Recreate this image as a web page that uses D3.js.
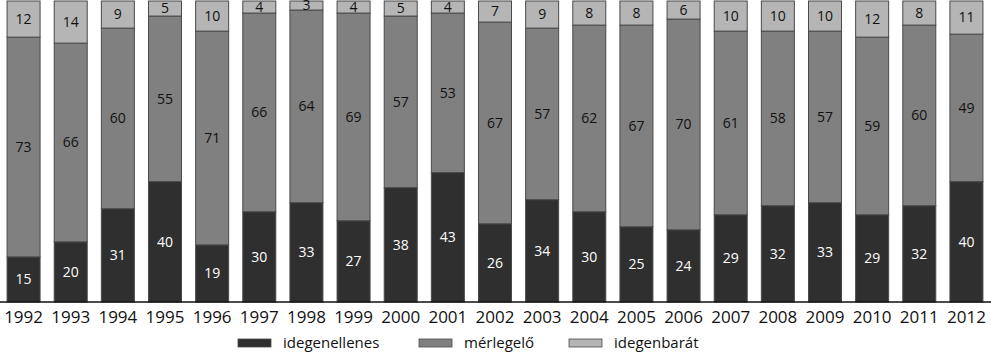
<!DOCTYPE html>
<html>
<head>
<meta charset="utf-8">
<script src="https://cdn.jsdelivr.net/npm/d3@7"></script>
<style>
  body { margin: 0; background: #fff; }
  svg { display: block; font-family: "Open Sans", "Noto Sans", sans-serif; }
</style>
</head>
<body>
<div id="chart"></div>
<script>
// Data
const years = ["1992","1993","1994","1995","1996","1997","1998","1999","2000","2001","2002",
  "2003","2004","2005","2006","2007","2008","2009","2010","2011","2012"];
const idegenellenes = [15,20,31,40,19,30,33,27,38,43,26,34,30,25,24,29,32,33,29,32,40];
const merlegelo = [73,66,60,55,71,66,64,69,57,53,67,57,62,67,70,61,58,57,59,60,49];
const idegenbarat = [12,14,9,5,10,4,3,4,5,4,7,9,8,8,6,10,10,10,12,8,11];
const seriesNames = ["idegenellenes", "mérlegelő", "idegenbarát"];

const width = 991, height = 352;
const colors = ["#2f2f2f", "#808080", "#b5b5b5"];
const textColors = ["#fff", "#111", "#111"];

const table = years.map((y, i) => ({
  year: y,
  "idegenellenes": idegenellenes[i],
  "mérlegelő": merlegelo[i],
  "idegenbarát": idegenbarat[i]
}));

const svg = d3.select("#chart")
  .append("svg")
  .attr("width", width)
  .attr("height", height);

// Scales
const x = d3.scaleBand()
  .domain(years)
  .range([0, 990])
  .paddingInner(0.3)
  .paddingOuter(0.15);

const y = d3.scaleLinear()
  .domain([0, 100])
  .range([302, 1]);

const stack = d3.stack().keys(seriesNames);
const layers = stack(table);

// Bars
const layer = svg.selectAll("g.layer")
  .data(layers)
  .join("g")
  .attr("class", "layer")
  .attr("fill", (d, i) => colors[i]);

layer.selectAll("rect")
  .data(d => d)
  .join("rect")
  .attr("x", d => x(d.data.year))
  .attr("y", d => y(d[1]))
  .attr("width", x.bandwidth())
  .attr("height", d => y(d[0]) - y(d[1]))
  .attr("stroke", "#4a4a4a")
  .attr("stroke-width", 1);

// Value labels
layers.forEach((l, li) => {
  svg.append("g")
    .selectAll("text")
    .data(l)
    .join("text")
    .attr("x", d => x(d.data.year) + x.bandwidth() / 2)
    .attr("y", d => (y(d[0]) + y(d[1])) / 2)
    .attr("dy", "0.35em")
    .attr("text-anchor", "middle")
    .attr("font-size", "14px")
    .attr("fill", textColors[li])
    .text(d => d.data[l.key]);
});

// X axis
const xAxis = svg.append("g")
  .attr("transform", `translate(0,${y(0)})`)
  .call(d3.axisBottom(x).tickSize(0).tickPadding(9));
xAxis.select(".domain")
  .attr("d", `M0,0H${width}`)
  .attr("stroke", "#111")
  .attr("stroke-width", 1.5);
xAxis.selectAll("text")
  .attr("font-size", "17px")
  .attr("font-family", "\"Open Sans\", sans-serif")
  .attr("fill", "#111");

// Legend
const legendX = [238, 419, 569];
const legend = svg.append("g")
  .selectAll("g")
  .data(seriesNames)
  .join("g")
  .attr("transform", (d, i) => `translate(${legendX[i]},339)`);

legend.append("rect")
  .attr("width", 33)
  .attr("height", 8)
  .attr("fill", (d, i) => colors[i])
  .attr("stroke", "#4a4a4a")
  .attr("stroke-width", 0.8);

legend.append("text")
  .attr("x", 45)
  .attr("y", 4)
  .attr("dy", "0.35em")
  .attr("font-size", "15px")
  .attr("fill", "#111")
  .text(d => d);
</script>
</body>
</html>
